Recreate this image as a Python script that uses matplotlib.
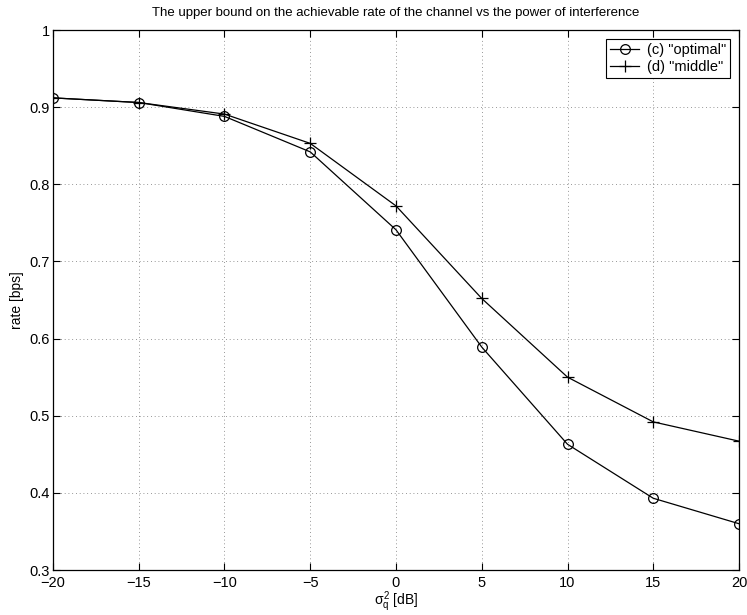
import matplotlib
matplotlib.use("Agg")
import matplotlib.pyplot as plt

plt.rcParams['font.family'] = ['Liberation Sans', 'DejaVu Sans']
plt.rcParams['mathtext.fontset'] = 'custom'
plt.rcParams['mathtext.rm'] = 'Liberation Sans'
plt.rcParams['mathtext.it'] = 'Liberation Sans'

# данные с графика
sigma_db = [-20, -15, -10, -5, 0, 5, 10, 15, 20]
rate_optimal = [0.912, 0.906, 0.888, 0.842, 0.741, 0.589, 0.463, 0.393, 0.360]
rate_middle = [0.912, 0.906, 0.891, 0.853, 0.772, 0.652, 0.550, 0.492, 0.467]
x_ticks = [-20, -15, -10, -5, 0, 5, 10, 15, 20]
x_tick_labels = ['\u221220', '\u221215', '\u221210', '\u22125', '0', '5', '10', '15', '20']
y_ticks = [0.3, 0.4, 0.5, 0.6, 0.7, 0.8, 0.9, 1.0]
y_tick_labels = ['0.3', '0.4', '0.5', '0.6', '0.7', '0.8', '0.9', '1']

fig = plt.figure(figsize=(7.47, 6.15), dpi=100)
ax = fig.add_axes([53 / 747, 45 / 615, 686 / 747, 540 / 615])

ax.plot(sigma_db, rate_optimal, color='black', lw=0.9, marker='o', ms=7,
        mfc='none', mec='black', mew=0.9, label='(c) "optimal"')
ax.plot(sigma_db, rate_middle, color='black', lw=0.9, marker='+', ms=8,
        mew=0.9, label='(d) "middle"')

ax.set_xlim(-20, 20)
ax.set_ylim(0.3, 1.0)
ax.set_xticks(x_ticks)
ax.set_xticklabels(x_tick_labels)
ax.set_yticks(y_ticks)
ax.set_yticklabels(y_tick_labels)
ax.tick_params(direction='in', length=5, width=0.8, labelsize=10.5, top=True, right=True)
ax.tick_params(axis='x', pad=4)
ax.tick_params(axis='y', pad=2)
ax.grid(True, linestyle=(0, (1, 3.5)), color='black', lw=0.6, alpha=0.55)
for s in ax.spines.values():
    s.set_linewidth(0.9)

ax.set_xlabel(r'$\sigma_q^2$ [dB]', fontsize=10, labelpad=0)
ax.set_ylabel('rate [bps]', fontsize=10, labelpad=4)
ax.set_title('The upper bound on the achievable rate of the channel vs the power of interference',
             fontsize=9.5, pad=10)

leg = ax.legend(loc='upper right', fontsize=10.5, fancybox=False, framealpha=1,
                edgecolor='black', borderaxespad=0.6, handlelength=2.0,
                borderpad=0.3, labelspacing=0.2, handletextpad=0.5)
leg.get_frame().set_linewidth(0.8)

fig.savefig('out.png', dpi=100)
